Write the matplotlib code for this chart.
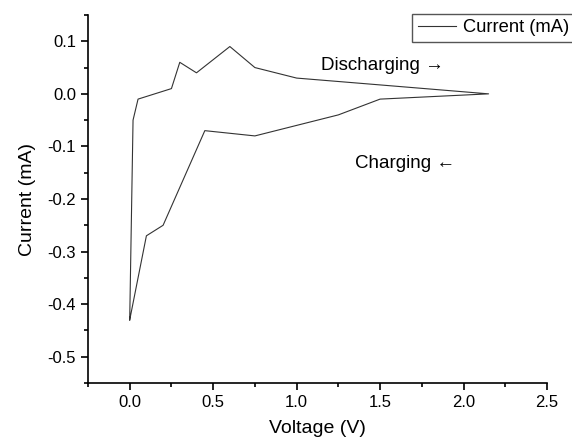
import numpy as np
import matplotlib
matplotlib.use('Agg')
import matplotlib.pyplot as plt
from matplotlib.ticker import MultipleLocator

plt.rcParams['font.family'] = ['Liberation Sans', 'DejaVu Sans']
plt.rcParams['axes.unicode_minus'] = False

# Discharge branch (upper) then charge branch (lower), one closed trace
voltage = [0.0, 0.02, 0.05, 0.25, 0.3, 0.4, 0.6, 0.75, 1.0, 1.5, 2.15,
           1.5, 1.25, 1.0, 0.75, 0.45, 0.2, 0.1, 0.0]
current = [-0.43, -0.05, -0.01, 0.01, 0.06, 0.04, 0.09, 0.05, 0.03, 0.017, 0.0,
           -0.01, -0.04, -0.06, -0.08, -0.07, -0.25, -0.27, -0.43]

x_ticks = [0.0, 0.5, 1.0, 1.5, 2.0, 2.5]
y_ticks = [0.1, 0.0, -0.1, -0.2, -0.3, -0.4, -0.5]

fig = plt.figure(figsize=(5.72, 4.41), dpi=100)
ax = fig.add_axes([0.1538, 0.1315, 0.8025, 0.8345])

line, = ax.plot(voltage, current, color='#333333', linewidth=0.8, label='Current (mA)')

ax.set_xlim(-0.25, 2.5)
ax.set_ylim(-0.55, 0.15)
ax.set_xticks(x_ticks)
ax.set_yticks(y_ticks)
ax.xaxis.set_major_formatter(plt.FormatStrFormatter('%.1f'))
ax.yaxis.set_major_formatter(plt.FormatStrFormatter('%.1f'))
ax.xaxis.set_minor_locator(MultipleLocator(0.25))
ax.yaxis.set_minor_locator(MultipleLocator(0.05))

for side in ['top', 'right']:
    ax.spines[side].set_visible(False)
for side in ['left', 'bottom']:
    ax.spines[side].set_linewidth(1.2)

ax.tick_params(which='major', direction='out', length=5, width=1.2, labelsize=12)
ax.tick_params(which='minor', direction='out', length=3, width=1.2)

ax.set_xlabel('Voltage (V)', fontsize=14, labelpad=7)
ax.set_ylabel('Current (mA)', fontsize=14, labelpad=8)

ax.text(1.145, 0.0535, 'Discharging \u2192', fontsize=13.5, va='center', ha='left')
ax.text(1.35, -0.132, 'Charging \u2190', fontsize=13.5, va='center', ha='left')

# legend sits partly off the right edge, as in the original
fig.legend(handles=[line], loc='upper left', bbox_to_anchor=(412 / 572, 1 - 14 / 441),
           fontsize=13.2, frameon=True, fancybox=False, edgecolor='#555555',
           framealpha=1, borderpad=0.3, handlelength=2.1, handletextpad=0.4,
           borderaxespad=0)

fig.savefig('out.png', dpi=100)
